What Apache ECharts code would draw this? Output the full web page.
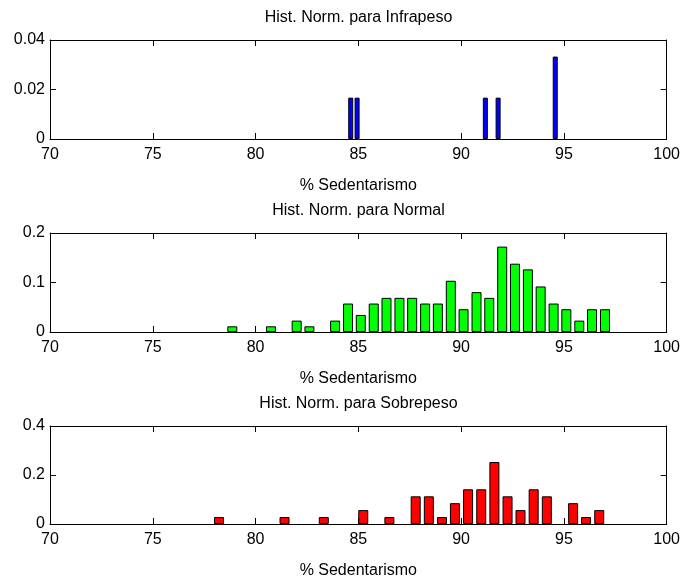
<!DOCTYPE html>
<html>
<head>
<meta charset="utf-8">
<script src="https://cdn.jsdelivr.net/npm/echarts@6/dist/echarts.min.js"></script>
<style>
  html, body { margin: 0; padding: 0; background: #fff; }
  #main { width: 683px; height: 580px; }
</style>
</head>
<body>
<div id="main"></div>
<script>
// panel titles, x label, y ranges
var panelTitles = ['Hist. Norm. para Infrapeso', 'Hist. Norm. para Normal', 'Hist. Norm. para Sobrepeso'];
var xLabel = '% Sedentarismo';
var yMaxes = [0.04, 0.2, 0.4];
var barColors = ['#0000ff', '#00ff00', '#ff0000'];

// Infrapeso: bin centres and normalized heights
var infraCenters = [84.63, 84.94, 91.18, 91.80, 94.58];
var infraValues = [0.0167, 0.0167, 0.0167, 0.0167, 0.0333];

// Normal
var normalCenters = [78.87, 80.75, 82.00, 82.62, 83.87, 84.50, 85.12, 85.75, 86.37, 87.00,
    87.62, 88.25, 88.87, 89.50, 90.12, 90.75, 91.37, 92.00, 92.62, 93.25,
    93.87, 94.50, 95.12, 95.75, 96.37, 97.00];
var normalValues = [0.0115, 0.0115, 0.023, 0.0115, 0.023, 0.0575, 0.0345, 0.0575, 0.069, 0.069,
    0.069, 0.0575, 0.0575, 0.1035, 0.046, 0.0805, 0.069, 0.1725, 0.138, 0.1265,
    0.092, 0.0575, 0.046, 0.023, 0.046, 0.046];

// Sobrepeso
var sobreCenters = [78.22, 81.41, 83.32, 85.24, 86.51, 87.79, 88.43, 89.07, 89.70, 90.34,
    90.98, 91.62, 92.26, 92.89, 93.53, 94.17, 95.45, 96.08, 96.72];
var sobreValues = [0.0283, 0.0283, 0.0283, 0.0567, 0.0283, 0.113, 0.113, 0.0283, 0.085, 0.1417,
    0.1417, 0.253, 0.113, 0.0567, 0.1417, 0.113, 0.085, 0.0283, 0.0567];

var centers = [infraCenters, normalCenters, sobreCenters];
var values = [infraValues, normalValues, sobreValues];

var font = 'Liberation Sans, Arial, Helvetica, sans-serif';
var fs = 16;
var gridTops = [40, 233, 426];
var gridLeft = 50, gridWidth = 617, gridHeight = 99;
var barWidths = [5, 10, 10];

var blackLine = { color: '#000', width: 1 };

var grids = [], xAxes = [], yAxes = [], series = [], titles = [];

for (var i = 0; i < 3; i++) {
    grids.push({ left: gridLeft, top: gridTops[i], width: gridWidth, height: gridHeight, containLabel: false });

    titles.push({
        text: panelTitles[i],
        left: gridLeft + gridWidth / 2,
        top: gridTops[i] - 30,
        textAlign: 'center',
        padding: 0,
        textStyle: { fontFamily: font, fontSize: fs, fontWeight: 'normal', color: '#000' }
    });

    xAxes.push({
        gridIndex: i, type: 'value', position: 'bottom', min: 70, max: 100, interval: 5,
        axisLine: { show: true, onZero: false, lineStyle: blackLine },
        axisTick: { show: true, inside: true, length: 6, lineStyle: blackLine },
        axisLabel: { color: '#000', fontFamily: font, fontSize: fs, margin: 8, showMinLabel: true, showMaxLabel: true },
        splitLine: { show: false },
        name: xLabel, nameLocation: 'middle', nameGap: 39,
        nameTextStyle: { color: '#000', fontFamily: font, fontSize: fs }
    });
    xAxes.push({
        gridIndex: i, type: 'value', position: 'top', min: 70, max: 100, interval: 5,
        axisLine: { show: true, onZero: false, lineStyle: blackLine },
        axisTick: { show: true, inside: true, length: 6, lineStyle: blackLine },
        axisLabel: { show: false },
        splitLine: { show: false }
    });

    yAxes.push({
        gridIndex: i, type: 'value', position: 'left', min: 0, max: yMaxes[i], interval: yMaxes[i] / 2,
        axisLine: { show: true, onZero: false, lineStyle: blackLine },
        axisTick: { show: true, inside: true, length: 6, lineStyle: blackLine },
        axisLabel: { color: '#000', fontFamily: font, fontSize: fs, margin: 5, showMinLabel: true, showMaxLabel: true },
        splitLine: { show: false }
    });
    yAxes.push({
        gridIndex: i, type: 'value', position: 'right', min: 0, max: yMaxes[i], interval: yMaxes[i] / 2,
        axisLine: { show: true, onZero: false, lineStyle: blackLine },
        axisTick: { show: true, inside: true, length: 6, lineStyle: blackLine },
        axisLabel: { show: false },
        splitLine: { show: false }
    });

    var pts = [];
    for (var k = 0; k < centers[i].length; k++) pts.push([centers[i][k], values[i][k]]);

    series.push({
        type: 'bar',
        xAxisIndex: i * 2,
        yAxisIndex: i * 2,
        data: pts,
        barWidth: barWidths[i],
        itemStyle: { color: barColors[i], borderColor: '#000', borderWidth: 1 },
        emphasis: { disabled: true },
        animation: false
    });
}

var chart = echarts.init(document.getElementById('main'));
chart.setOption({
    animation: false,
    backgroundColor: '#fff',
    title: titles,
    grid: grids,
    xAxis: xAxes,
    yAxis: yAxes,
    series: series
});
</script>
</body>
</html>
